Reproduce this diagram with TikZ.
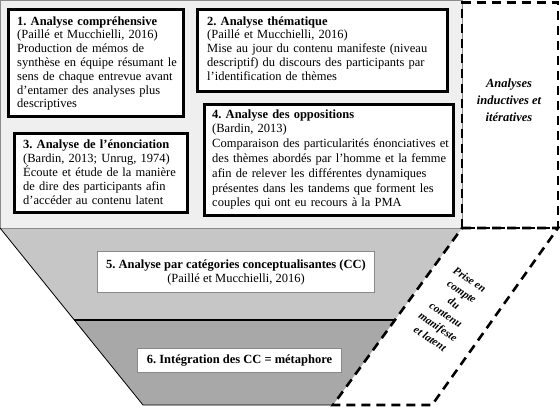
\documentclass[tikz,border=0pt]{standalone}
\usepackage{fontspec}
\setmainfont{Liberation Serif}
\frenchspacing
\definecolor{topgray}{HTML}{EFEFEF}
\definecolor{midgray}{HTML}{C6C6C6}
\definecolor{lowgray}{HTML}{A8A8A8}
\definecolor{edgegray}{HTML}{8A8A8A}
\newcommand{\jl}[1]{\leavevmode\hbox to\linewidth{#1}}
\begin{document}
\begin{tikzpicture}[x=1pt,y=-1pt,
  bx/.style={draw, line width=3pt, fill=white, inner sep=0pt, anchor=north west},
  sbx/.style={draw=edgegray, line width=1pt, fill=white, inner sep=0pt, anchor=north west, align=center,
    font=\fontsize{12.5}{14}\selectfont},
  txt/.style={inner sep=0pt, anchor=base west, align=left},
  dashedline/.style={line width=2.6pt, dash pattern=on 9pt off 6pt, line join=miter},
  side/.style={font=\fontsize{12.5}{17}\selectfont\bfseries\itshape, align=center, inner sep=0pt}
]
\useasboundingbox (0,0) rectangle (560,408);
% top light region
\draw[edgegray, fill=topgray, line width=1pt] (0.5,0.5) rectangle (462,228);
% funnel
\coordinate (ftl) at (0,228);
\coordinate (ftr) at (462,228);
\coordinate (fml) at (74,320);
\coordinate (fmr) at (395,320);
\coordinate (fbl) at (143,405);
\coordinate (fbr) at (333,405);
\fill[midgray] (ftl) -- (ftr) -- (fmr) -- (fml) -- cycle;
\fill[lowgray] (fml) -- (fmr) -- (fbr) -- (fbl) -- cycle;
\draw[edgegray, line width=0.8pt] (ftr) -- (ftl);
\draw[line width=0.8pt] (ftl) -- (fbl) -- (fbr);
\draw[line width=2pt] (fml) -- (fmr);
% dashed side shapes
\coordinate (d1) at (462,2.5);
\coordinate (d2) at (558,2.5);
\coordinate (d3) at (558,228);
\coordinate (d4) at (462,228);
\coordinate (d5) at (432,405);
\coordinate (d6) at (333,405);
\draw[dashedline] (d4) -- (d1) -- (d2) -- (d3) -- cycle;
\draw[dashedline] (d4) -- (d3) -- (d5) -- (d6) -- cycle;
% boxes
\node[bx, minimum width=175pt, minimum height=107pt] (b1) at (7,8) {};
\node[bx, minimum width=250pt, minimum height=82pt] (b2) at (196,8) {};
\node[bx, minimum width=173pt, minimum height=79pt] (b3) at (13,132) {};
\node[bx, minimum width=249pt, minimum height=111pt] (b4) at (203,103) {};
\node[txt, text width=166pt, font=\fontsize{12.5}{13.8}\selectfont] (t1) at (17,25)
 {\textbf{1. Analyse compréhensive}\\(Paillé et Mucchielli, 2016)\\Production de mémos de\\synthèse en équipe résumant le\\sens de chaque entrevue avant\\d’entamer des analyses plus\\descriptives};
\node[txt, text width=238pt, font=\fontsize{12.5}{13.8}\selectfont] (t2) at (207,25)
 {\textbf{2. Analyse thématique}\\(Paillé et Mucchielli, 2016)\\\jl{Mise au jour du contenu manifeste (niveau}\\\jl{descriptif) du discours des participants par}\\l’identification de thèmes};
\node[txt, text width=157pt, font=\fontsize{12.5}{14}\selectfont] (t3) at (23,148)
 {\textbf{3. Analyse de l’énonciation}\\(Bardin, 2013; Unrug, 1974)\\\jl{Écoute et étude de la manière}\\\jl{de dire des participants afin}\\d’accéder au contenu latent};
\node[txt, text width=236pt, font=\fontsize{12.5}{14.8}\selectfont] (t4) at (212,118)
 {\textbf{4. Analyse des oppositions}\\(Bardin, 2013)\\\jl{Comparaison des particularités énonciatives et}\\\jl{des thèmes abordés par l’homme et la femme}\\\jl{afin de relever les différentes dynamiques}\\\jl{présentes dans les tandems que forment les}\\couples qui ont eu recours à la PMA};
\node[sbx, minimum width=277pt, minimum height=41pt] (b5) at (97,251)
 {\textbf{5. Analyse par catégories conceptualisantes (CC)}\\(Paillé et Mucchielli, 2016)};
\node[sbx, minimum width=204pt, minimum height=24pt] (b6) at (137,348)
 {\textbf{6. Intégration des CC = métaphore}};
% side labels
\node[side] (s1) at (509,100) {Analyses\\inductives et\\itératives};
\node[side, font=\fontsize{11}{14.2}\selectfont\bfseries\itshape, rotate=-34] (s2) at (450,309)
 {Prise en\\compte\\du\\contenu\\manifeste\\et latent};
\end{tikzpicture}
\end{document}
